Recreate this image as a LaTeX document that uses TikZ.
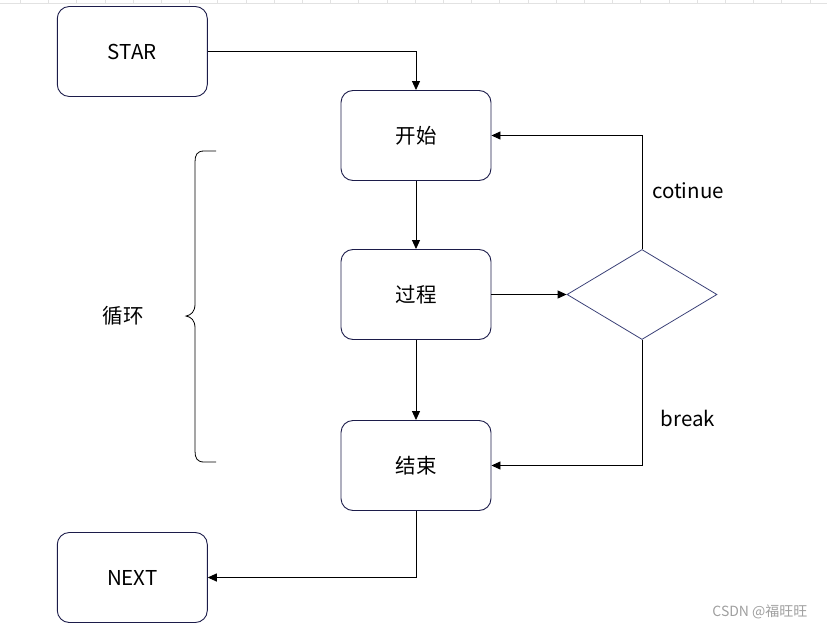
\documentclass[tikz,border=0pt]{standalone}
\usepackage{fontspec}
\setmainfont{Noto Sans CJK SC}
\usetikzlibrary{arrows.meta,shapes.geometric}
\definecolor{boxline}{HTML}{1C1C4A}
\definecolor{diamline}{HTML}{3C4278}
\definecolor{rulegray}{HTML}{E2E2E2}

\begin{document}
\begin{tikzpicture}[x=1pt,y=-1pt,
  box/.style={draw=boxline,line width=0.9pt,rounded corners=12pt,
    minimum width=150pt,minimum height=90pt,inner sep=0pt,
    font=\fontsize{20.5}{23}\selectfont},
  choice/.style={diamond,draw=diamline,line width=0.8pt,aspect=1.667,
    minimum width=150pt,minimum height=90pt,inner sep=0pt},
  flow/.style={line width=0.9pt,-{Triangle[length=9pt,width=8pt]}},
  tlabel/.style={font=\fontsize{20.5}{23}\selectfont},
  ruler/.style={draw=rulegray,line width=0.8pt}]
\useasboundingbox (0,0) rectangle (827,629);
\draw[ruler] (0,3.5) -- (827,3.5);
\foreach \i in {0,...,28}
  \draw[ruler] ({20.3+28.2*\i},0) -- ++(0,3.5);

\node[box] (star) at (132.3,51.5) {STAR};
\node[box] (kaishi) at (416,135.5) {开始};
\node[box] (guocheng) at (416,294.5) {过程};
\node[box] (jieshu) at (416,465.5) {结束};
\node[box] (next) at (132.3,577.5) {NEXT};
\node[choice] (cond) at (642,294.5) {};

\draw[flow] (star.east) -| (kaishi.north);
\draw[flow] (kaishi) -- (guocheng);
\draw[flow] (guocheng) -- (jieshu);
\draw[flow] (guocheng.east) -- (cond.west);
\draw[flow] (cond.north) |- (kaishi.east);
\draw[flow] (cond.south) |- (jieshu.east);
\draw[flow] (jieshu.south) |- (next.east);

\node[tlabel] (cont) at (688,191) {cotinue};
\node[tlabel] (brk) at (688,418) {break};

% brace
\draw[line width=0.8pt] (216,151) -- (204,151)
  .. controls (197,151) and (195,155) .. (195,162) -- (195,304)
  .. controls (195,312) and (191,315) .. (186,316)
  .. controls (191,317) and (195,320) .. (195,328) -- (195,451)
  .. controls (195,458) and (197,462) .. (204,462) -- (216,462);
\node[tlabel] (xunhuan) at (123,316) {循环};

\node[text=gray!75,font=\fontsize{14}{16}\selectfont,anchor=east] (mark) at (811,612) {CSDN @福旺旺};
\end{tikzpicture}
\end{document}
